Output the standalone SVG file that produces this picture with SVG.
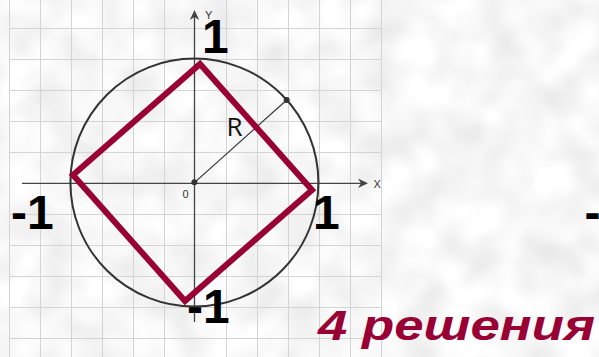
<svg xmlns="http://www.w3.org/2000/svg" width="599" height="357" viewBox="0 0 599 357">
  <defs>
    <filter id="tex" x="0" y="0" width="100%" height="100%" filterUnits="userSpaceOnUse">
      <feTurbulence type="fractalNoise" baseFrequency="0.025" numOctaves="2" seed="7" result="n"/>
      <feColorMatrix in="n" type="matrix" values="0.34 0 0 0 0.76  0.34 0 0 0 0.76  0.34 0 0 0 0.76  0 0 0 0 1"/>
    </filter>
    <style>
      .grid { stroke: #d4d4d4; stroke-width: 1; fill: none; }
      .axis { stroke: #444; stroke-width: 1.3; fill: none; }
      .arrow { fill: #444; stroke: none; }
      .big { font-family: "Liberation Sans", Arial, sans-serif; font-weight: bold; font-size: 48px; fill: #000; }
      .small { font-family: "Liberation Sans", Arial, sans-serif; font-size: 11px; fill: #333; }
      .sq { fill: none; stroke: #990033; stroke-width: 6; stroke-linejoin: miter; }
    </style>
  </defs>
  <rect x="0" y="0" width="599" height="357" fill="#ececec"/>
  <rect x="0" y="0" width="599" height="357" filter="url(#tex)"/>

  <g id="grid" class="grid">
    <path d="M9.5 0V357M40.5 0V357M71.5 0V357M102.5 0V357M133.5 0V357M164.5 0V357M226.5 0V357M257.5 0V357M288.5 0V357M319.5 0V357M350.5 0V357M381.5 0V357"/>
    <path d="M9 28.5H381M9 59.5H381M9 90.5H381M9 121.5H381M9 152.5H381M9 214.5H381M9 245.5H381M9 276.5H381M9 307.5H381M9 338.5H381"/>
  </g>

  <g id="axes">
    <line class="axis" x1="22" y1="183.3" x2="362" y2="183.3"/>
    <line class="axis" x1="194.5" y1="322" x2="194.5" y2="15"/>
    <path class="arrow" d="M368 183.3L358 178.5L361 183.3L358 188Z"/>
    <path class="arrow" d="M194.5 10L189.8 20L194.5 17L199.2 20Z"/>
    <text class="small" x="373.5" y="187.5">X</text>
    <text class="small" x="205" y="18.5">Y</text>
    <text class="small" x="182.5" y="198">0</text>
  </g>

  <g id="circle">
    <circle cx="194.4" cy="182.6" r="124" fill="none" stroke="#333" stroke-width="2"/>
  </g>

  <g id="radius">
    <line x1="194.4" y1="182.6" x2="286.7" y2="100" stroke="#333" stroke-width="1.2"/>
    <circle cx="194.4" cy="182.2" r="3" fill="#333"/>
    <circle cx="286.7" cy="100" r="3" fill="#333"/>
    <text x="226.5" y="136" font-family="'Open Sans', 'Liberation Sans', sans-serif" font-size="26" fill="#111">R</text>
  </g>

  <g id="square">
    <path class="sq" d="M200 64L312 190L185 301L73 175Z"/>
  </g>

  <g id="labels">
    <text class="big" x="202" y="52.5">1</text>
    <text class="big" x="11" y="229">-1</text>
    <text class="big" x="313" y="229">1</text>
    <text class="big" x="187" y="323" font-size="46">-1</text>
    <text class="big" x="584.5" y="229">-</text>
  </g>

  <g id="caption">
    <text x="318" y="340" font-family="'Liberation Sans', Arial, sans-serif" font-weight="bold" font-style="italic" font-size="43" fill="#990033" textLength="277" lengthAdjust="spacingAndGlyphs">4 решения</text>
  </g>
</svg>
